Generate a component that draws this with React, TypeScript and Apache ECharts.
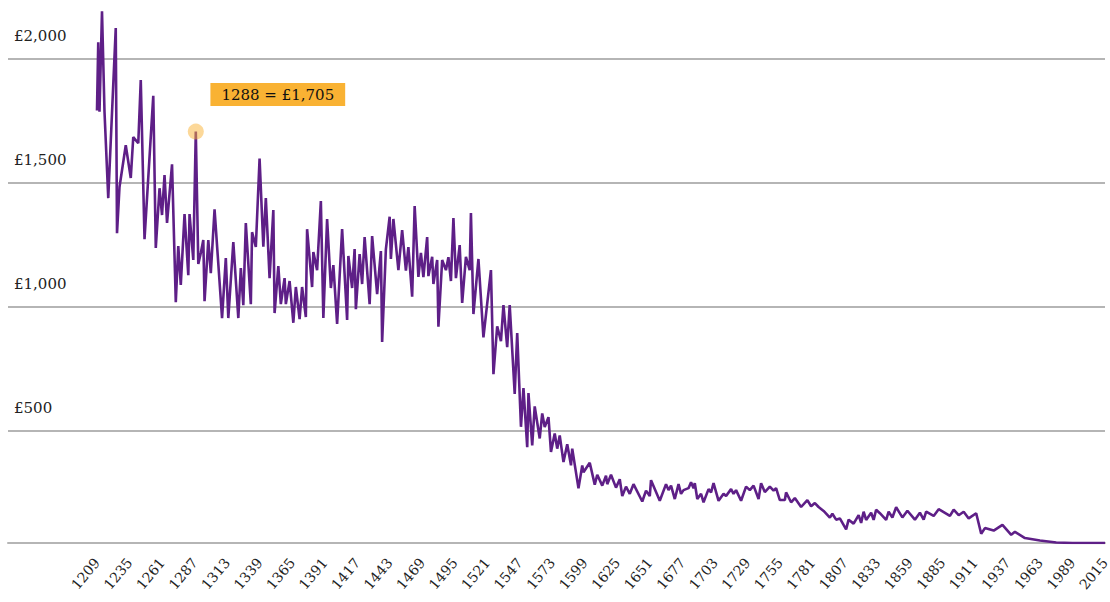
import React, { useEffect, useRef } from "react";
import * as echarts from "echarts";

// ---- Data ----
const years: number[] = [
  1209, 1210, 1211, 1213, 1215, 1218, 1224, 1225, 1227, 1232,
  1236, 1238, 1242, 1244, 1247, 1254, 1256, 1259, 1261, 1263,
  1265, 1269, 1272, 1274, 1276, 1279, 1282, 1283, 1286, 1288,
  1290, 1292, 1294, 1295, 1298, 1300, 1303, 1309, 1312, 1314,
  1318, 1322, 1324, 1326, 1328, 1332, 1333, 1336, 1339, 1342,
  1344, 1347, 1350, 1351, 1354, 1356, 1359, 1360, 1363, 1366,
  1368, 1371, 1373, 1376, 1377, 1381, 1382, 1385, 1388, 1390,
  1393, 1396, 1398, 1401, 1405, 1409, 1410, 1413, 1415, 1416,
  1419, 1421, 1423, 1427, 1429, 1433, 1436, 1437, 1440, 1443,
  1444, 1446, 1450, 1453, 1456, 1458, 1461, 1463, 1466, 1468,
  1470, 1473, 1474, 1477, 1478, 1481, 1482, 1485, 1488, 1490,
  1492, 1494, 1496, 1499, 1501, 1504, 1507, 1508, 1510, 1514,
  1518, 1524, 1526, 1529, 1532, 1534, 1537, 1539, 1543, 1545,
  1548, 1550, 1553, 1554, 1557, 1559, 1563, 1565, 1567, 1570,
  1572, 1575, 1577, 1579, 1582, 1585, 1588, 1589, 1594, 1597,
  1598, 1603, 1607, 1609, 1613, 1616, 1617, 1620, 1624, 1627,
  1629, 1632, 1635, 1638, 1645, 1648, 1651, 1652, 1659, 1664,
  1666, 1668, 1671, 1674, 1676, 1678, 1682, 1684, 1686, 1687,
  1689, 1692, 1694, 1698, 1700, 1702, 1706, 1710, 1712, 1716,
  1718, 1720, 1724, 1728, 1731, 1734, 1738, 1740, 1743, 1747,
  1750, 1752, 1755, 1759, 1760, 1764, 1767, 1772, 1777, 1780,
  1783, 1786, 1790, 1795, 1797, 1800, 1803, 1808, 1810, 1814,
  1818, 1820, 1822, 1824, 1828, 1830, 1832, 1835, 1840, 1842,
  1845, 1848, 1853, 1857, 1863, 1867, 1870, 1872, 1878, 1882,
  1891, 1894, 1898, 1902, 1906, 1912, 1916, 1919, 1926, 1933,
  1940, 1943, 1951, 1963, 1976, 1989, 2015,
];

const prices: number[] = [
  1790, 2065, 1785, 2190, 1785, 1437, 2122, 1296, 1482, 1650,
  1518, 1683, 1658, 1913, 1272, 1849, 1236, 1477, 1369, 1530,
  1337, 1573, 1018, 1244, 1087, 1373, 1127, 1373, 1188, 1705,
  1172, 1216, 1268, 1022, 1268, 1135, 1392, 954, 1196, 954,
  1260, 954, 1155, 1006, 1337, 1010, 1300, 1240, 1596, 1241,
  1437, 1115, 1389, 974, 1163, 1010, 1115, 1010, 1103, 935,
  1079, 950, 1079, 958, 1312, 1079, 1220, 1147, 1425, 954,
  1353, 1075, 1167, 930, 1312, 946, 1204, 1075, 1232, 990,
  1212, 1091, 1280, 1010, 1284, 1050, 1224, 858, 1232, 1362,
  1192, 1353, 1147, 1308, 1145, 1240, 1040, 1405, 1120, 1217,
  1119, 1280, 1123, 1201, 1091, 1188, 919, 1188, 1147, 1199,
  1103, 1357, 1115, 1248, 1015, 1201, 1147, 1377, 970, 1192,
  876, 1147, 728, 921, 861, 1006, 837, 1006, 648, 894,
  516, 672, 434, 652, 441, 598, 469, 570, 515, 555,
  415, 489, 428, 481, 374, 446, 361, 428, 268, 360,
  333, 371, 283, 323, 279, 319, 285, 323, 271, 305,
  237, 275, 246, 285, 215, 259, 237, 301, 218, 285,
  261, 279, 225, 285, 246, 261, 269, 293, 269, 289,
  225, 246, 212, 265, 252, 289, 218, 246, 237, 265,
  246, 261, 218, 275, 261, 279, 225, 289, 253, 275,
  259, 269, 221, 221, 252, 212, 229, 193, 221, 196,
  209, 193, 177, 150, 166, 142, 147, 103, 142, 126,
  160, 129, 174, 141, 170, 141, 182, 168, 141, 174,
  151, 192, 151, 178, 142, 170, 142, 174, 157, 184,
  157, 182, 160, 174, 147, 168, 85, 108, 98, 121,
  81, 93, 68, 58, 50, 48, 48,
];

const xTickYears: number[] = [
  1209, 1235, 1261, 1287, 1313, 1339, 1365, 1391, 1417, 1443, 1469,
  1495, 1521, 1547, 1573, 1599, 1625, 1651, 1677, 1703, 1729, 1755,
  1781, 1807, 1833, 1859, 1885, 1911, 1937, 1963, 1989, 2015,
];

const yGridValues: number[] = [500, 1000, 1500, 2000];

const highlightYear = 1288;
const highlightValue = 1705;

const FONT = "'DejaVu Serif', Georgia, serif";
const PURPLE = "#5E1F87";
const GRID_GREY = "#b5b5b5";
const ORANGE = "#F9B233";

const fmtPounds = (v: number) => "£" + Number(v).toLocaleString("en-GB");

export default function App() {
  const ref = useRef<HTMLDivElement | null>(null);

  useEffect(() => {
    if (!ref.current) return;
    const chart = echarts.init(ref.current, undefined, { renderer: "svg" });

    const data = years.map((y, i) => [y, prices[i]]);

    const option: any = {
      animation: false,
      backgroundColor: "#ffffff",
      grid: {
        left: 8,
        right: 5,
        top: 8.7,
        bottom: 59,
        containLabel: false,
        outerBoundsMode: "none",
      },
      xAxis: {
        type: "value",
        min: 1137.84,
        max: 2015,
        splitLine: { show: false },
        axisTick: { show: false },
        axisLine: { show: true, lineStyle: { color: GRID_GREY, width: 2 } },
        axisLabel: {
          customValues: xTickYears,
          rotate: 50,
          margin: 17,
          fontSize: 14,
          fontFamily: FONT,
          color: "#222",
          formatter: (v: number) => String(v),
        },
      },
      yAxis: {
        type: "value",
        min: 48,
        max: 2200,
        show: false,
        splitLine: { show: false },
      },
      series: [
        {
          type: "line",
          data,
          symbol: "none",
          showSymbol: false,
          z: 3,
          lineStyle: { color: PURPLE, width: 2.6 },
          itemStyle: { color: PURPLE },
          markLine: {
            silent: true,
            z: 1,
            symbol: ["none", "none"],
            lineStyle: { color: GRID_GREY, width: 2, type: "solid" },
            label: {
              show: true,
              position: "insideStartTop",
              distance: [6, 15],
              formatter: (p: any) => fmtPounds(p.value),
              fontFamily: FONT,
              fontSize: 15,
              color: "#222",
            },
            emphasis: { disabled: true },
            data: yGridValues.map((v) => ({ yAxis: v })),
          },
          markPoint: {
            silent: true,
            z: 5,
            symbol: "circle",
            symbolSize: 16,
            itemStyle: { color: "rgba(249,178,51,0.5)" },
            label: {
              show: true,
              position: "inside",
              offset: [82, -37],
              formatter: () => `${highlightYear} = ${fmtPounds(highlightValue)}`,
              backgroundColor: ORANGE,
              padding: [3, 11, 3, 11],
              lineHeight: 17,
              fontFamily: FONT,
              fontSize: 15,
              color: "#111",
            },
            data: [{ coord: [highlightYear, highlightValue] }],
          },
        },
      ],
    };

    chart.setOption(option);
    return () => chart.dispose();
  }, []);

  return (
    <div
      ref={ref}
      style={{ position: "absolute", left: 0, top: 0, width: 1110, height: 602 }}
    />
  );
}
